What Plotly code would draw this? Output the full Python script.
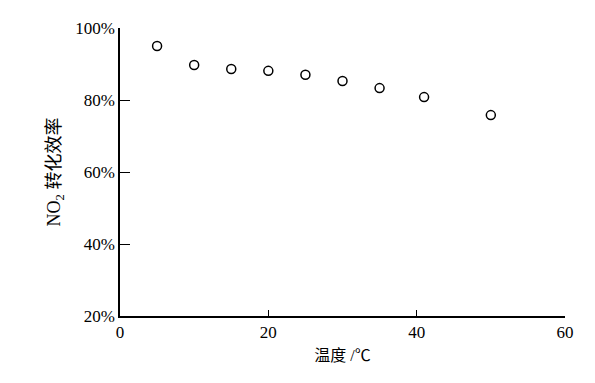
import plotly.graph_objects as go

temperature = [5, 10, 15, 20, 25, 30, 35, 41, 50]
efficiency = [95.0, 89.7, 88.6, 88.1, 87.0, 85.3, 83.3, 80.8, 75.8]
x_ticks = [0, 20, 40, 60]
y_ticks = [20, 40, 60, 80, 100]
y_tick_labels = ["20%", "40%", "60%", "80%", "100%"]

font_family = "'Liberation Serif', 'Times New Roman', 'Noto Sans CJK SC', serif"

fig = go.Figure()
fig.add_trace(go.Scatter(
    x=temperature, y=efficiency, mode="markers",
    marker=dict(symbol="circle-open", size=9, color="black", line=dict(width=1.5, color="black")),
    showlegend=False,
))

fig.update_layout(
    width=595, height=383,
    margin=dict(l=112, r=38, t=20, b=75),
    paper_bgcolor="white", plot_bgcolor="white",
    font=dict(family=font_family, size=17, color="black"),
)
fig.update_xaxes(
    range=[0, 60], tickvals=x_ticks, ticktext=[str(v) for v in x_ticks],
    showline=True, linecolor="black", linewidth=1.5, mirror=False,
    ticks="inside", ticklen=6, tickwidth=1.2, tickcolor="black",
    showgrid=False, zeroline=False,
    title=dict(text="温度 /℃", font=dict(family=font_family, size=16), standoff=9),
)
fig.update_yaxes(
    range=[20, 100], tickvals=y_ticks, ticktext=y_tick_labels,
    showline=True, linecolor="black", linewidth=1.5, mirror=False,
    ticks="inside", ticklen=10, tickwidth=1.2, tickcolor="black",
    showgrid=False, zeroline=False,
    title=dict(text="NO<sub>2</sub> 转化效率", font=dict(family=font_family, size=18), standoff=10),
)

fig.write_html("out.html")
